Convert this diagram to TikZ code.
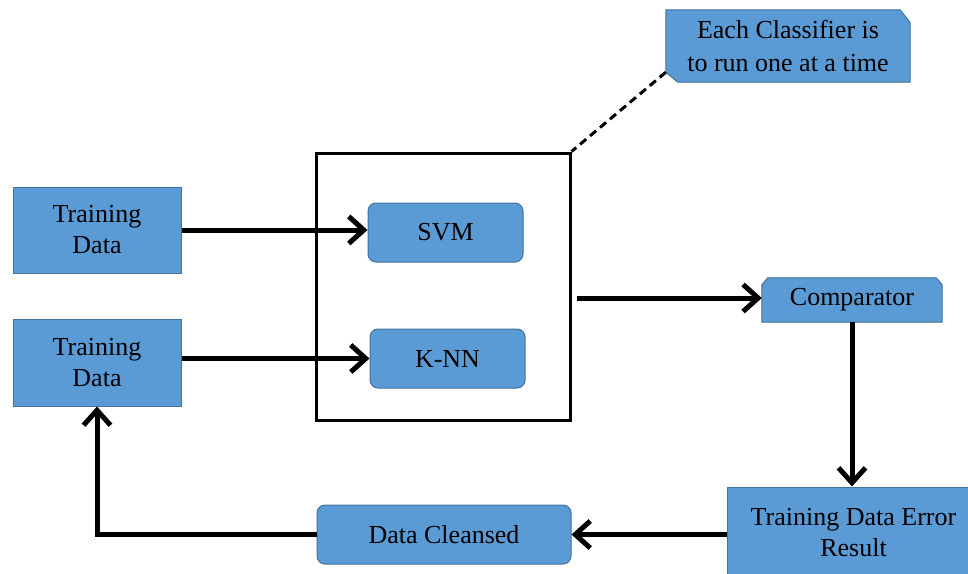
\documentclass[tikz,border=0pt]{standalone}
\usepackage{fontspec}
\setmainfont{LiberationSerif}[Extension=.ttf, UprightFont=*-Regular, BoldFont=*-Bold]
\usetikzlibrary{arrows.meta,backgrounds}

\definecolor{boxblue}{HTML}{5B9BD5}
\definecolor{edgeblue}{HTML}{41719C}

\tikzset{
  txt/.style={font=\fontsize{26}{31}\selectfont, align=center, text=black, inner sep=0pt},
  bluebox/.style={txt, fill=boxblue, draw=edgeblue, line width=1pt},
  roundbox/.style={bluebox, rounded corners=8pt},
  snipfill/.style={fill=boxblue, draw=edgeblue, line width=1pt},
  flow/.style={line width=5pt, -{Straight Barb[length=15pt,width=27pt]}},
  callout/.style={line width=3pt, dash pattern=on 8pt off 5pt}
}

\begin{document}
\begin{tikzpicture}[x=1pt,y=-1pt]
\useasboundingbox (0,0) rectangle (968,573);
\clip (0,0) rectangle (968,573);

% classifier container
\node[draw=black, line width=3pt, fill=white, minimum width=254pt, minimum height=267pt, inner sep=0pt] (clf) at (443,286.5) {};

% inputs
\node[bluebox, minimum width=168pt, minimum height=86pt] (td1) at (97,230) {Training\\Data};
\node[bluebox, minimum width=168pt, minimum height=87pt] (td2) at (97,362.5) {Training\\Data};

% classifiers
\node[roundbox, minimum width=155pt, minimum height=59pt] (svm) at (445.5,232.5) {SVM};
\node[roundbox, minimum width=155pt, minimum height=59pt] (knn) at (447.5,358.5) {K-NN};

% comparator with snipped top corners
\node[txt, minimum width=180pt, minimum height=44pt] (comp) at (852,300) {Comparator};
\begin{pgfonlayer}{background}
\filldraw[snipfill] ([yshift=-7pt]comp.north west) -- ([xshift=6pt]comp.north west)
  -- ([xshift=-6pt]comp.north east) -- ([yshift=-7pt]comp.north east)
  -- (comp.south east) -- (comp.south west) -- cycle;
\end{pgfonlayer}

% error result
\node[bluebox, minimum width=253pt, minimum height=91pt] (err) at (853.5,532.5) {Training Data Error\\Result};

% cleansed data
\node[roundbox, minimum width=254pt, minimum height=59pt] (dc) at (444,534.5) {Data Cleansed};

% note with snipped diagonal corners
\node[txt, font=\fontsize{26}{33}\selectfont, minimum width=244pt, minimum height=72pt] (note) at (788,46) {Each Classifier is\\to run one at a time};
\begin{pgfonlayer}{background}
\filldraw[snipfill] (note.north west) -- ([xshift=-10pt]note.north east)
  -- ([yshift=-13pt]note.north east) -- (note.south east)
  -- ([xshift=12pt]note.south west) -- ([yshift=10pt]note.south west) -- cycle;
\end{pgfonlayer}
\coordinate (notecorner) at ([yshift=10pt]note.south west);

% connectors
\draw[callout] (notecorner) -- (clf.north east);
\draw[flow] (td1.east) -- (td1.east -| svm.west);
\draw[flow] (td2.east |- knn.west) -- (knn.west);
\coordinate (clfout) at ([xshift=5pt]clf.east |- comp.west);
\draw[flow] ([yshift=2pt]clfout) -- ([yshift=2pt]comp.west);
\draw[flow] (comp.south) -- (comp.south |- err.north);
\draw[flow] (err.west |- dc.east) -- (dc.east);
\draw[flow] (dc.west) -| (td2.south);
\end{tikzpicture}
\end{document}
